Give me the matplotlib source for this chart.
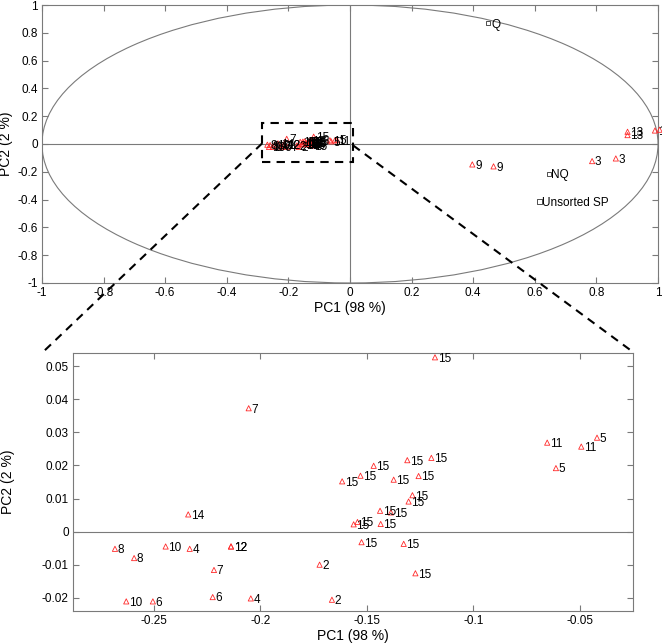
import numpy as np
import matplotlib
matplotlib.use("Agg")
import matplotlib.pyplot as plt
from matplotlib.patches import Ellipse, Rectangle
from matplotlib.lines import Line2D

plt.rcParams['font.family'] = ['Liberation Sans', 'DejaVu Sans']

# samples (red triangles)
pc1 = [-0.2055, -0.2339, -0.2683, -0.2593, -0.2445, -0.2332, -0.2138, -0.2138,
       -0.2218, -0.1722, -0.2630, -0.2505, -0.2224, -0.2045, -0.1664,
       -0.1180, -0.0653, -0.0493, -0.0419, -0.0612,
       -0.1310, -0.1197, -0.1468, -0.1530, -0.1616, -0.1374, -0.1257, -0.1286,
       -0.1304, -0.1438, -0.1387, -0.1562, -0.1544, -0.1435, -0.1525, -0.1327,
       -0.1272,
       0.397, 0.466, 0.786, 0.863, 0.901, 0.901, 0.990, 1.005]
pc2 = [0.0373, 0.0052, -0.0052, -0.0080, -0.0045, -0.0052, -0.0045, -0.0045,
       -0.0116, -0.0100, -0.0211, -0.0211, -0.0198, -0.0202, -0.0206,
       0.0527, 0.0269, 0.0257, 0.0284, 0.0192,
       0.0216, 0.0223, 0.0199, 0.0169, 0.0152, 0.0157, 0.0168, 0.0110,
       0.0091, 0.0063, 0.0058, 0.0022, 0.0029, 0.0023, -0.0032, -0.0037,
       -0.0126,
       -0.147, -0.161, -0.123, -0.104, 0.088, 0.064, 0.097, 0.103]
labels = ['7', '14', '8', '8', '10', '4', '12', '12',
          '7', '2', '10', '6', '6', '4', '2',
          '15', '11', '11', '5', '5',
          '15', '15', '15', '15', '15', '15', '15', '15',
          '15', '15', '15', '15', '15', '15', '15', '15',
          '15',
          '9', '9', '3', '3', '13', '13', '1', '1']

# reference samples (squares)
ref_pc1 = [0.449, 0.645, 0.615]
ref_pc2 = [0.869, -0.216, -0.414]
ref_labels = ['Q', 'NQ', 'Unsorted SP']

top_ticks = [-1, -0.8, -0.6, -0.4, -0.2, 0, 0.2, 0.4, 0.6, 0.8, 1]
top_ticklabels = ['-1', '-0.8', '-0.6', '-0.4', '-0.2', '0', '0.2', '0.4', '0.6', '0.8', '1']
zoom_xticks = [-0.25, -0.2, -0.15, -0.1, -0.05]
zoom_xticklabels = ['-0.25', '-0.2', '-0.15', '-0.1', '-0.05']
zoom_yticks = [-0.02, -0.01, 0, 0.01, 0.02, 0.03, 0.04, 0.05]
zoom_yticklabels = ['-0.02', '-0.01', '0', '0.01', '0.02', '0.03', '0.04', '0.05']

box_x = (-0.285, 0.01)
box_y = (-0.13, 0.15)

GRAY = '#7a7a7a'
TRI = '#ff2a2a'


def style(ax):
    for s in ax.spines.values():
        s.set_color(GRAY)
        s.set_linewidth(0.8)
    ax.tick_params(direction='in', length=4, width=0.8, color=GRAY,
                   labelsize=8.5, top=True, right=True, pad=3)


def draw_points(ax, clip):
    ax.scatter(pc1, pc2, marker='^', s=14, facecolors='none', edgecolors=TRI,
               linewidths=0.6, zorder=3, clip_on=clip)
    for x, y, t in zip(pc1, pc2, labels):
        ax.annotate(t, (x, y), xytext=(2, -1), textcoords='offset points',
                    ha='left', va='center', fontsize=8.5, color='black',
                    annotation_clip=clip, clip_on=clip)


fig = plt.figure(figsize=(6.62, 6.43), dpi=100)

# full PCA plot
ax1 = fig.add_axes([0.0634, 0.5599, 0.9306, 0.4323])
ax1.set_xlim(-1, 1)
ax1.set_ylim(-1, 1)
ax1.add_patch(Ellipse((0, 0), 2, 2, fill=False, edgecolor=GRAY, linewidth=0.8))
ax1.axhline(0, color=GRAY, linewidth=0.8)
ax1.axvline(0, color=GRAY, linewidth=0.8)
draw_points(ax1, False)
ax1.scatter(ref_pc1, ref_pc2, marker='s', s=9, facecolors='none',
            edgecolors='#333333', linewidths=0.6, zorder=3)
for x, y, t in zip(ref_pc1, ref_pc2, ref_labels):
    ax1.annotate(t, (x, y), xytext=(2, -1), textcoords='offset points',
                 ha='left', va='center', fontsize=8.5)
ax1.add_patch(Rectangle((box_x[0], box_y[0]), box_x[1] - box_x[0], box_y[1] - box_y[0],
                        fill=False, edgecolor='black', linestyle=(0, (4, 3)),
                        linewidth=1.5, zorder=4))
ax1.set_xticks(top_ticks)
ax1.set_xticklabels(top_ticklabels)
ax1.set_yticks(top_ticks)
ax1.set_yticklabels(top_ticklabels)
ax1.set_xlabel('PC1 (98 %)', fontsize=10, labelpad=1)
ax1.set_ylabel('PC2 (2 %)', fontsize=10, labelpad=3)
style(ax1)

# zoomed plot
ax2 = fig.add_axes([0.1103, 0.0498, 0.8459, 0.4012])
ax2.set_xlim(-0.288, -0.025)
ax2.set_ylim(-0.024, 0.054)
ax2.axhline(0, color=GRAY, linewidth=0.8)
draw_points(ax2, True)
ax2.set_xticks(zoom_xticks)
ax2.set_xticklabels(zoom_xticklabels)
ax2.set_yticks(zoom_yticks)
ax2.set_yticklabels(zoom_yticklabels)
ax2.set_xlabel('PC1 (98 %)', fontsize=10, labelpad=1)
ax2.set_ylabel('PC2 (2 %)', fontsize=10, labelpad=19)
style(ax2)

# dashed connectors from the box to the zoomed plot
fig.canvas.draw()
to_fig = fig.transFigure.inverted()
left_start = to_fig.transform(ax1.transData.transform((box_x[0], 0.005)))
right_start = to_fig.transform(ax1.transData.transform((box_x[1], -0.01)))
end_y = 1 - 352 / 643
fig.add_artist(Line2D([left_start[0], 43 / 662], [left_start[1], end_y],
                      transform=fig.transFigure, color='black',
                      linestyle=(0, (4, 3)), linewidth=1.5))
fig.add_artist(Line2D([right_start[0], 633 / 662], [right_start[1], end_y],
                      transform=fig.transFigure, color='black',
                      linestyle=(0, (4, 3)), linewidth=1.5))

fig.savefig('out.png', dpi=100)
